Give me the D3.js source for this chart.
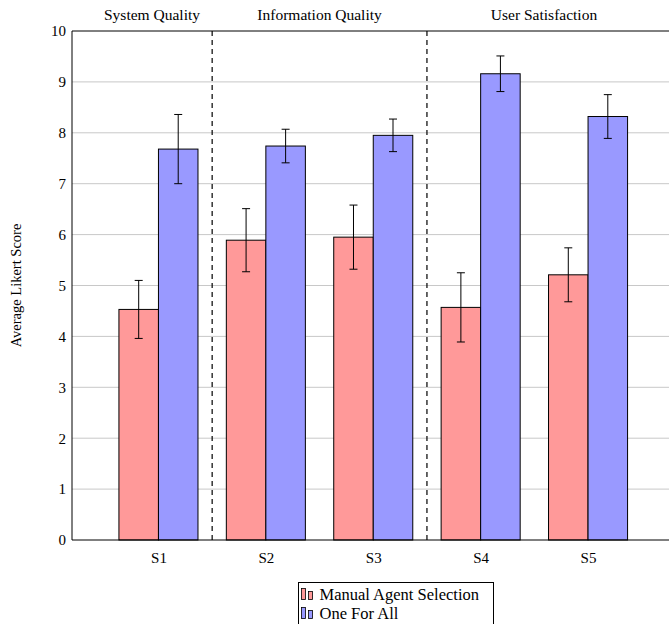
<!DOCTYPE html>
<html><head><meta charset="utf-8">
<script src="https://cdn.jsdelivr.net/npm/d3@7"></script>
<style>body{margin:0;background:#fff}svg{display:block}</style>
</head><body>
<script>
const categories = ["S1","S2","S3","S4","S5"];
const manualMean = [4.53, 5.89, 5.95, 4.57, 5.21];
const manualErr  = [0.57, 0.62, 0.63, 0.68, 0.53];
const oneMean    = [7.68, 7.74, 7.95, 9.16, 8.32];
const oneErr     = [0.68, 0.33, 0.32, 0.35, 0.43];
const yTicks = [0,1,2,3,4,5,6,7,8,9,10];
const seriesNames = ["Manual Agent Selection", "One For All"];
const groupLabels = ["System Quality", "Information Quality", "User Satisfaction"];
const groupLabelPos = [-0.06, 1.5, 3.59];
const separators = [0.5, 2.5];

const FONT = "'Times New Roman', Tinos, 'Liberation Serif', 'Noto Serif', 'DejaVu Serif', Georgia, serif";
const W = 669, H = 624;
const svg = d3.select("body").append("svg").attr("width", W).attr("height", H)
  .attr("font-family", FONT);
const x = d3.scaleLinear().domain([-0.805, 4.805]).range([72, 674.5]);
const y = d3.scaleLinear().domain([0, 10]).range([540, 31]);
const bw = 0.368;
const colors = ["#ff9999", "#9999ff"];

svg.append("g").selectAll("line").data(yTicks.slice(1, -1)).join("line")
  .attr("x1", x(-0.805)).attr("x2", x(4.805))
  .attr("y1", d => y(d)).attr("y2", d => y(d))
  .attr("stroke", "#c8c8c8").attr("stroke-width", 1);

svg.append("g").selectAll("line").data(separators).join("line")
  .attr("x1", d => x(d)).attr("x2", d => x(d)).attr("y1", y(10)).attr("y2", y(0))
  .attr("stroke", "#000").attr("stroke-width", 1.2).attr("stroke-dasharray", "5,4");

const series = [
  {mean: manualMean, err: manualErr, off: -1},
  {mean: oneMean, err: oneErr, off: 0}
];
series.forEach((s, si) => {
  svg.append("g").selectAll("rect").data(categories).join("rect")
    .attr("x", (d, i) => x(i + s.off * bw))
    .attr("width", x(bw) - x(0))
    .attr("y", (d, i) => y(s.mean[i]))
    .attr("height", (d, i) => y(0) - y(s.mean[i]))
    .attr("fill", colors[si]).attr("stroke", "#000").attr("stroke-width", 1);
});
series.forEach((s, si) => {
  const g = svg.append("g").attr("stroke", "#000").attr("stroke-width", 1);
  categories.forEach((c, i) => {
    const cx = x(i + (s.off + 0.5) * bw);
    const t = y(s.mean[i] + s.err[i]), b = y(s.mean[i] - s.err[i]);
    g.append("line").attr("x1", cx).attr("x2", cx).attr("y1", t).attr("y2", b);
    g.append("line").attr("x1", cx - 4).attr("x2", cx + 4).attr("y1", t).attr("y2", t);
    g.append("line").attr("x1", cx - 4).attr("x2", cx + 4).attr("y1", b).attr("y2", b);
  });
});

svg.append("path")
  .attr("d", `M${x(4.805)},${y(10)}H${x(-0.805)}V${y(0)}H${x(4.805)}V${y(10)}`)
  .attr("fill", "none").attr("stroke", "#000").attr("stroke-width", 1);

const ya = svg.append("g").attr("transform", `translate(${x(-0.805)},0)`)
  .call(d3.axisLeft(y).tickValues(yTicks).tickSize(0).tickPadding(6));
ya.attr("font-family", FONT).attr("font-size", 15);
ya.select(".domain").remove();

const xa = svg.append("g").attr("transform", `translate(0,${y(0)})`)
  .call(d3.axisBottom(x).tickValues(d3.range(categories.length)).tickFormat(i => categories[i]).tickSize(0).tickPadding(12));
xa.attr("font-family", FONT).attr("font-size", 15);
xa.select(".domain").remove();

svg.append("g").selectAll("text").data(groupLabels).join("text")
  .attr("x", (d, i) => x(groupLabelPos[i])).attr("y", 20)
  .attr("text-anchor", "middle").attr("font-size", 15.5).text(d => d);

svg.append("text").attr("transform", `translate(21,${(y(0)+y(10))/2}) rotate(-90)`)
  .attr("text-anchor", "middle").attr("font-size", 14.5).text("Average Likert Score");

const lg = svg.append("g").attr("transform", "translate(298.5,582.5)");
lg.append("rect").attr("width", 195).attr("height", 50).attr("fill", "#fff").attr("stroke", "#000").attr("stroke-width", 1);
seriesNames.forEach((n, i) => {
  const yy = 6 + i * 19;
  lg.append("rect").attr("x", 3).attr("y", yy).attr("width", 4).attr("height", 11).attr("fill", colors[i]).attr("stroke", "#000").attr("stroke-width", 0.8);
  lg.append("rect").attr("x", 10).attr("y", yy + 3).attr("width", 4).attr("height", 8).attr("fill", colors[i]).attr("stroke", "#000").attr("stroke-width", 0.8);
  lg.append("text").attr("x", 21).attr("y", yy + 11).attr("font-size", 16.5).text(n);
});
</script>
</body></html>
